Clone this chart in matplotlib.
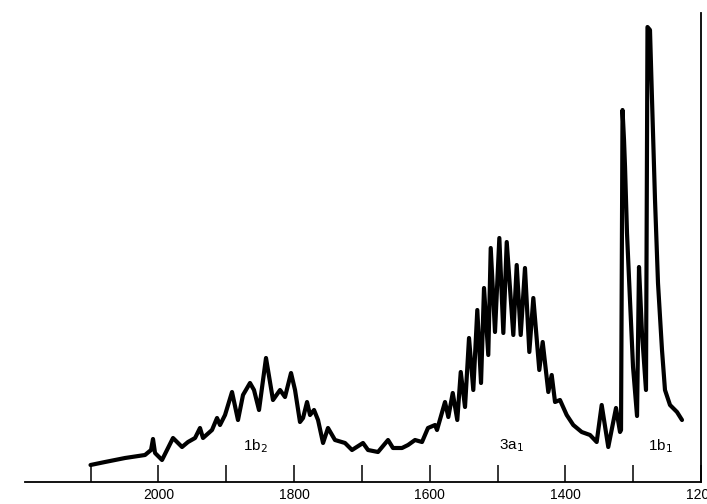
import numpy as np
import matplotlib
matplotlib.use("Agg")
import matplotlib.pyplot as plt

# wavenumber (cm-1), left to right
wavenumber = [
    2100.0, 2078.6, 2049.1, 2019.7, 2010.8, 2007.9, 2004.9, 1994.6, 1978.4, 1965.1,
    1956.3, 1945.9, 1938.6, 1934.2, 1920.9, 1913.5, 1909.1, 1901.7, 1891.4, 1882.6,
    1875.2, 1864.9, 1859.0, 1851.6, 1841.3, 1831.0, 1820.6, 1813.3, 1804.4, 1798.5,
    1791.2, 1786.7, 1780.8, 1776.4, 1770.5, 1764.6, 1757.2, 1749.9, 1739.6, 1724.8,
    1714.5, 1698.3, 1690.9, 1676.2, 1661.4, 1654.1, 1640.8, 1631.9, 1621.6, 1611.3,
    1602.5, 1592.1, 1589.2, 1577.4, 1572.5, 1566.0, 1559.3, 1554.2, 1547.9, 1542.0,
    1535.7, 1529.8, 1524.3, 1519.9, 1513.6, 1510.0, 1503.7, 1497.3, 1491.4, 1486.4,
    1476.7, 1471.7, 1465.8, 1459.5, 1453.1, 1447.2, 1438.4, 1433.4, 1425.1, 1420.1,
    1415.2, 1407.9, 1398.0, 1388.3, 1375.9, 1363.6, 1353.8, 1346.4, 1336.7, 1325.3,
    1319.4, 1317.9, 1315.7, 1313.5, 1312.0, 1309.1, 1304.7, 1300.2, 1294.3, 1291.4,
    1287.0, 1281.1, 1278.9, 1275.2, 1272.2, 1267.8, 1263.4, 1257.5, 1253.1, 1245.7,
    1235.4, 1228.0,
]
# signal height, arbitrary units
signal = [
    17, 20, 24, 27, 32, 43, 29, 22, 44, 35,
    40, 44, 54, 44, 52, 64, 57, 67, 90, 62,
    87, 99, 92, 72, 124, 82, 92, 85, 109, 92,
    60, 64, 80, 67, 72, 62, 39, 54, 42, 39,
    32, 39, 32, 30, 42, 34, 34, 37, 42, 40,
    54, 57, 52, 80, 65, 89, 62, 110, 75, 144,
    92, 172, 99, 194, 127, 234, 150, 244, 149, 240,
    147, 217, 147, 214, 130, 184, 112, 140, 90, 107,
    80, 82, 67, 57, 50, 47, 40, 77, 35, 74,
    50, 52, 372, 342, 315, 249, 182, 115, 66, 215,
    149, 92, 455, 452, 382, 282, 199, 132, 92, 77,
    70, 62,
]

band_labels = ["1b$_2$", "3a$_1$", "1b$_1$"]
band_pos = [1857.5, 1480.1, 1260.4]

major_ticks = [2000, 1800, 1600, 1400, 1200]
minor_ticks = [2100, 1900, 1700, 1500, 1300]

plt.rcParams['font.family'] = ['Liberation Sans', 'DejaVu Sans']

fig = plt.figure(figsize=(7.07, 5.04), dpi=100)
ax = fig.add_axes([25 / 707, 1 - 482 / 504, 676 / 707, 469 / 504])

ax.plot(wavenumber, signal, color='black', linewidth=3.0,
        solid_joinstyle='round', solid_capstyle='round')

for lab, pos in zip(band_labels, band_pos):
    ax.text(pos, 36, lab, fontsize=11, ha='center', va='center')

ax.set_xlim(2196.6, 1200)
ax.set_ylim(0, 469)

for side in ['left', 'top']:
    ax.spines[side].set_visible(False)
ax.spines['bottom'].set_linewidth(1.3)
ax.spines['right'].set_linewidth(1.3)

ax.set_yticks([])
ax.set_xticks(major_ticks)
ax.set_xticks(minor_ticks, minor=True)
# the 1200 label runs off the right edge in the original scan too
ax.set_xticklabels([str(t) for t in major_ticks])
ax.tick_params(axis='x', which='both', direction='in', length=12, width=1.1,
               labelsize=10, pad=4)

fig.savefig("out.png", dpi=100)
